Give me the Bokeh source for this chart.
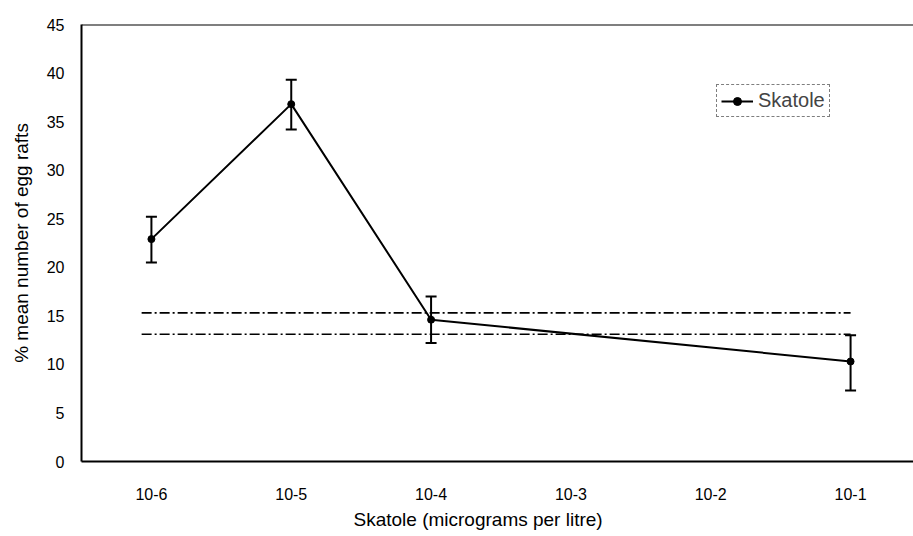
from bokeh.plotting import figure
from bokeh.models import (ColumnDataSource, Whisker, TeeHead, Span, FixedTicker,
                          Range1d, Legend, LegendItem, Title)
from bokeh.embed import file_html
from bokeh.resources import INLINE

# ---- data ----
concentrations = ["10-6", "10-5", "10-4", "10-3", "10-2", "10-1"]
measured = ["10-6", "10-5", "10-4", "10-1"]
mean_pct = [22.9, 36.8, 14.6, 10.3]
err_upper = [25.2, 39.3, 17.0, 13.0]
err_lower = [20.5, 34.2, 12.2, 7.3]
control_levels = [15.3, 13.1]
y_ticks = [0, 5, 10, 15, 20, 25, 30, 35, 40, 45]

FONT = "Liberation Sans"

xpos = [concentrations.index(c) for c in measured]
src = ColumnDataSource(dict(x=xpos, y=mean_pct, upper=err_upper, lower=err_lower))

p = figure(width=913, height=536, output_backend="svg", toolbar_location=None,
           x_range=Range1d(-0.5, 5.45), y_range=Range1d(0, 45),
           min_border_left=81, min_border_right=0, min_border_top=24,
           min_border_bottom=75)
p.outline_line_color = None
p.grid.visible = False
p.background_fill_color = "white"
p.border_fill_color = "white"

# control (dash-dot) lines
x_start = 0 - 0.07
x_end = len(concentrations) - 1
for lvl in control_levels:
    p.line([x_start, x_end], [lvl, lvl], line_color="black", line_width=1.6,
           line_dash="10 3 2 3")

# data line + markers
ln = p.line("x", "y", source=src, line_color="black", line_width=2)
sc = p.scatter("x", "y", source=src, size=7, color="black")

wh = Whisker(source=src, base="x", upper="upper", lower="lower",
             line_color="black", line_width=2,
             upper_head=TeeHead(size=11, line_width=2, line_color="black"),
             lower_head=TeeHead(size=11, line_width=2, line_color="black"))
p.add_layout(wh)

# top border line
p.add_layout(Span(location=45, dimension="width", line_color="black", line_width=2))

# axes
p.xaxis.ticker = FixedTicker(ticks=list(range(len(concentrations))))
p.xaxis.major_label_overrides = {i: c for i, c in enumerate(concentrations)}
p.yaxis.ticker = FixedTicker(ticks=y_ticks)
for ax in (p.xaxis[0], p.yaxis[0]):
    ax.axis_line_color = "black"
    ax.axis_line_width = 2
    ax.major_tick_out = 0
    ax.major_tick_in = 0
    ax.minor_tick_out = 0
    ax.minor_tick_in = 0
    ax.major_label_text_font = FONT
    ax.major_label_text_font_size = "16px"
    ax.major_label_text_color = "black"
    ax.axis_label_text_font = FONT
    ax.axis_label_text_font_style = "normal"
    ax.axis_label_text_font_size = "19px"
    ax.axis_label_text_color = "black"

p.xaxis.major_label_standoff = 26
p.yaxis.axis_label = "% mean number of egg rafts"
p.yaxis.major_label_standoff = 17
p.yaxis.axis_label_standoff = 12

xlabel = Title(text="Skatole (micrograms per litre)", align="left", offset=272,
               text_font=FONT, text_font_size="19px", text_font_style="normal",
               text_color="black", standoff=8)
p.add_layout(xlabel, "below")

legend = Legend(items=[LegendItem(label="Skatole", renderers=[ln, sc])],
                location=(635, 344))
legend.border_line_color = "black"
legend.border_line_width = 1.5
legend.border_line_dash = "8 3 2 3"
legend.label_text_font = FONT
legend.label_text_font_size = "20px"
legend.glyph_width = 32
legend.padding = 4
legend.margin = 0
legend.spacing = 0
legend.label_standoff = 5
legend.background_fill_alpha = 1
p.add_layout(legend, "center")

open("out.html", "w").write(file_html(p, INLINE))
